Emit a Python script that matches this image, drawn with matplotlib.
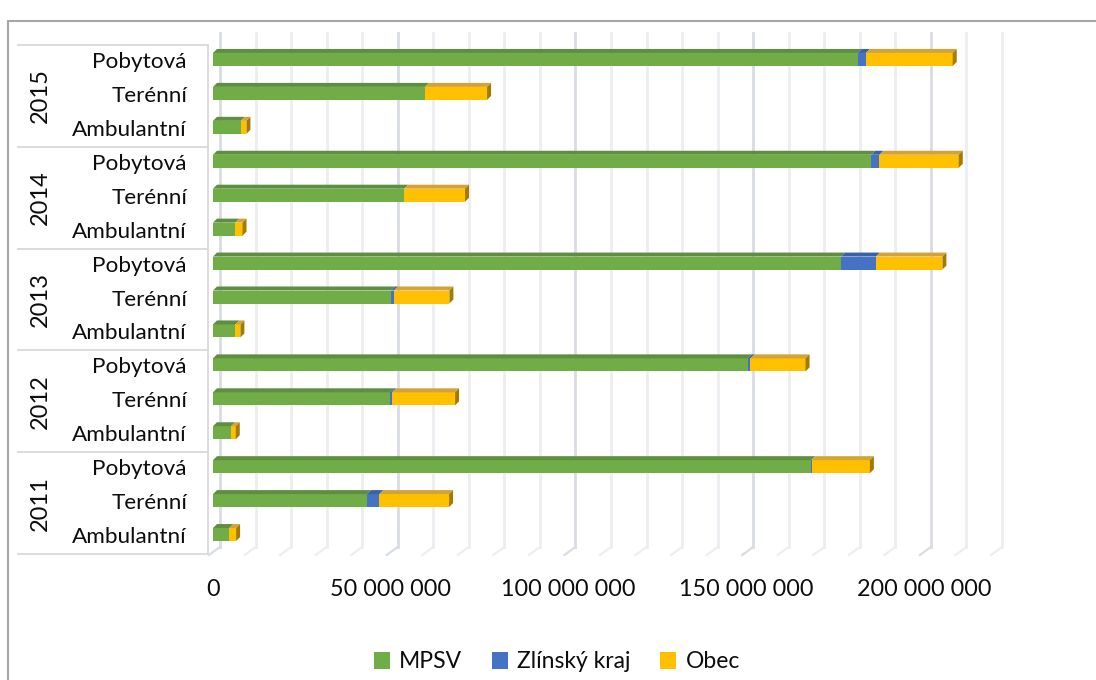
import matplotlib
matplotlib.use("Agg")
import matplotlib.pyplot as plt
from matplotlib.patches import Polygon, Rectangle, Patch
from matplotlib.transforms import (blended_transform_factory, IdentityTransform,
                                   ScaledTranslation, Affine2D)

# ---- data (CZK) ----
years = ["2011", "2012", "2013", "2014", "2015"]
services = ["Ambulantní", "Terénní", "Pobytová"]
series_names = ["MPSV", "Zlínský kraj", "Obec"]

# ordered year by year, each year: Ambulantní, Terénní, Pobytová
mpsv = [4_600_000, 43_300_000, 168_200_000,
        5_100_000, 49_900_000, 150_400_000,
        6_300_000, 50_100_000, 176_700_000,
        6_300_000, 53_800_000, 185_200_000,
        7_800_000, 59_700_000, 181_400_000]
zlinsky_kraj = [0, 3_500_000, 200_000,
                0, 500_000, 800_000,
                0, 800_000, 9_800_000,
                0, 0, 2_300_000,
                0, 0, 2_300_000]
obec = [1_900_000, 19_600_000, 16_400_000,
        1_300_000, 17_700_000, 15_500_000,
        1_400_000, 15_600_000, 18_700_000,
        2_000_000, 17_100_000, 22_300_000,
        1_600_000, 17_400_000, 24_400_000]

x_ticks = [0, 50_000_000, 100_000_000, 150_000_000, 200_000_000]
x_max = 220_000_000
grid_step = 10_000_000

# ---- styling ----
FONT = "Lato"
plt.rcParams["font.family"] = [FONT, "DejaVu Sans"]
front_colors = ["#70AD47", "#4472C4", "#FFC000"]
top_colors = ["#5E8E40", "#3A62A6", "#D3A33A"]
side_colors = ["#4F7A34", "#2F5290", "#A27B00"]
TEXT = "#0D0D0D"

W, H = 1096, 680
fig = plt.figure(figsize=(W / 100, H / 100), dpi=100)

# axes region in image pixels (front plane of the bars)
AX_L, AX_R, AX_T, AX_B = 213, 995, 45, 554
ax = fig.add_axes([AX_L / W, 1 - AX_B / H, (AX_R - AX_L) / W, (AX_B - AX_T) / H])
n = len(mpsv)
ax.set_xlim(0, x_max)
ax.set_ylim(0, n)
ax.axis("off")

px_x = x_max / (AX_R - AX_L)      # data units per pixel, horizontal
px_y = n / (AX_B - AX_T)          # data units per pixel, vertical

img_y = Affine2D().scale(1, -1).translate(0, H)   # image-pixel y -> display
to_inch = fig.dpi_scale_trans

# back wall gridlines and floor lines
v = 0
while v <= x_max:
    major = v % 50_000_000 == 0
    col = "#D8DCE4" if major else "#ECEEF2"
    tr = blended_transform_factory(ax.transData + ScaledTranslation(7 / 100, 0, to_inch), img_y)
    ax.plot([v, v], [33, 547], transform=tr, color=col, lw=2.0, clip_on=False, zorder=0)
    xd = ax.transData.transform((v, 0))[0]
    ax.plot([xd + 7, xd - 4], [H - 547, H - 555], transform=IdentityTransform(),
            color=col, lw=1.6, clip_on=False, zorder=0)
    v += grid_step

# category table lines
tbl = blended_transform_factory(IdentityTransform(), ax.transData)
for b in range(0, n + 1, 3):
    ax.plot([18, 208], [b, b], transform=tbl, color="#D9D9D9", lw=1.3, clip_on=False)
ax.plot([208, 208], [0, n], transform=tbl, color="#D9D9D9", lw=1.3, clip_on=False)

# bars: front faces, top faces, end face
bar_h = 13 * px_y
y_shift = 2.5 * px_y
dx, dy = 4 * px_x, 4 * px_y
ys = [i + 0.5 + y_shift for i in range(n)]
series = [mpsv, zlinsky_kraj, obec]
left = [0] * n
for s, vals in enumerate(series):
    ax.barh(ys, vals, height=bar_h, left=left, color=front_colors[s],
            edgecolor="none", zorder=3)
    for i in range(n):
        if vals[i] <= 0:
            continue
        x0, x1 = left[i], left[i] + vals[i]
        top = ys[i] + bar_h / 2
        ax.add_patch(Polygon([(x0, top), (x1, top), (x1 + dx, top + dy), (x0 + dx, top + dy)],
                             closed=True, facecolor=top_colors[s], edgecolor="none", zorder=3))
    left = [l + v for l, v in zip(left, vals)]

# end faces on the outermost segment
for i in range(n):
    last = max(s for s in range(3) if series[s][i] > 0)
    x1 = left[i]
    bot, top = ys[i] - bar_h / 2, ys[i] + bar_h / 2
    ax.add_patch(Polygon([(x1, bot), (x1, top), (x1 + dx, top + dy), (x1 + dx, bot + dy)],
                         closed=True, facecolor=side_colors[last], edgecolor="none", zorder=3))

# category labels
lab_tr = blended_transform_factory(IdentityTransform(), ax.transData)
for i in range(n):
    ax.text(187, i + 0.5, services[i % 3], transform=lab_tr, ha="right", va="center",
            fontsize=16.2, color=TEXT)
for g, yr in enumerate(years):
    ax.text(40, g * 3 + 1.5, yr, transform=lab_tr, ha="center", va="center",
            rotation=90, fontsize=17, color=TEXT)

# x tick labels
for t in x_ticks:
    ax.text(t, 590, f"{t:,.0f}".replace(",", " "),
            transform=blended_transform_factory(ax.transData, img_y),
            ha="center", va="center", fontsize=16.8, color=TEXT)

# legend
handles = [Patch(facecolor=c, edgecolor="none") for c in front_colors]
fig.legend(handles, series_names, loc="center", bbox_to_anchor=(557 / W, 1 - 662 / H),
           ncol=3, frameon=False, fontsize=16.5, handlelength=0.7, handleheight=0.7,
           handletextpad=0.4, columnspacing=1.3, labelcolor=TEXT)

# chart frame
fig.patches.append(Rectangle((8 / W, -0.05), 1.2, 1.05 - 21 / H, transform=fig.transFigure,
                             fill=False, edgecolor="#A6A6A6", lw=1.5))

fig.savefig("out.png", dpi=100)
